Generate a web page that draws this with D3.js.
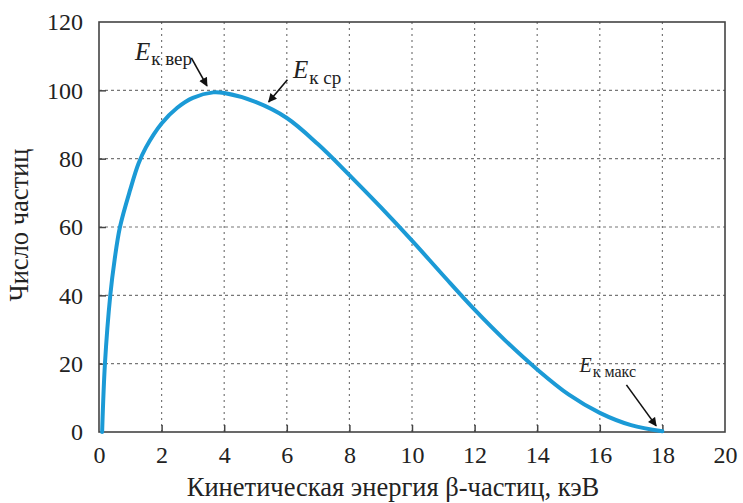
<!DOCTYPE html>
<html>
<head>
<meta charset="utf-8">
<script src="https://cdn.jsdelivr.net/npm/d3@7"></script>
</head>
<body style="margin:0; background:#fff">
<svg id="chart" width="743" height="503"></svg>
<script>
// spectrum
const energy = [0.1, 0.19, 0.36, 0.5, 0.67, 1, 1.26, 1.5, 2, 2.5, 3, 3.65, 4, 5, 6, 7, 8, 9, 10, 11, 12, 13, 14, 15, 16, 17, 18];
const count  = [0, 20, 40, 50.5, 60, 71, 78.5, 83.3, 90.3, 94.9, 97.8, 99.4, 99.2, 96.6, 91.9, 84.2, 75.2, 65.8, 56, 45.8, 35.8, 26.6, 18.3, 11, 5.6, 2, 0.2];
const xTicks = [0, 2, 4, 6, 8, 10, 12, 14, 16, 18, 20];
const yTicks = [0, 20, 40, 60, 80, 100, 120];

// annotations: subscript, text position, arrow from / to (data units)
const notes = [
  {sub: "к вер",  tx: 1.15, ty: 109, from: [2.95, 109.5], to: [3.45, 101.3], size: 25, subSize: 19},
  {sub: "к ср",   tx: 6.2,  ty: 103.6, from: [6.02, 103.1], to: [5.42, 96.6], size: 25, subSize: 19},
  {sub: "к макс", tx: 15.35, ty: 17.5, from: [16.85, 13.8], to: [17.8, 1.8], size: 20, subSize: 16}
];

const FONT = '"Liberation Serif"';
const svg = d3.select("#chart");
const margin = {top: 22, right: 18, bottom: 71, left: 99};
const width = 743 - margin.left - margin.right;
const height = 503 - margin.top - margin.bottom;

const x = d3.scaleLinear().domain([0, 20]).range([0, width]);
const y = d3.scaleLinear().domain([0, 120]).range([height, 0]);

const g = svg.append("g").attr("transform", `translate(${margin.left},${margin.top})`);

// grid
g.append("g").selectAll("line").data(yTicks.filter(d => d > 0 && d < 120)).join("line")
  .attr("x1", 0).attr("x2", width)
  .attr("y1", d => y(d)).attr("y2", d => y(d))
  .attr("stroke", "#777").attr("stroke-width", 1.2).attr("stroke-dasharray", "3,3");
g.append("g").selectAll("line").data(xTicks.filter(d => d > 0 && d < 20)).join("line")
  .attr("x1", d => x(d)).attr("x2", d => x(d))
  .attr("y1", 0).attr("y2", height)
  .attr("stroke", "#777").attr("stroke-width", 1.2).attr("stroke-dasharray", "2,4");

// axes with inward ticks
const xAxis = g.append("g").attr("transform", `translate(0,${height})`)
  .call(d3.axisBottom(x).tickValues(xTicks).tickSizeInner(-7).tickSizeOuter(0).tickPadding(16));
const yAxis = g.append("g")
  .call(d3.axisLeft(y).tickValues(yTicks).tickSizeInner(-7).tickSizeOuter(0).tickPadding(16));
[xAxis, yAxis].forEach(a => {
  a.attr("font-family", null).attr("font-size", null);
  a.select(".domain").remove();
  a.selectAll(".tick line").attr("stroke", "#444").attr("stroke-width", 1.5);
  a.selectAll(".tick text").style("font-family", FONT).style("font-size", "24px").attr("fill", "#222");
});
xAxis.selectAll(".tick line").filter(d => d === 0 || d === 20).remove();
yAxis.selectAll(".tick line").filter(d => d === 0 || d === 120).remove();
xAxis.selectAll(".tick text").attr("dy", "0.62em");

// frame
g.append("rect").attr("width", width).attr("height", height)
  .attr("fill", "none").attr("stroke", "#444").attr("stroke-width", 1.6);

// curve
const line = d3.line().x(d => x(d[0])).y(d => y(d[1])).curve(d3.curveCatmullRom.alpha(0.5));
g.append("path").datum(energy.map((e, i) => [e, count[i]]))
  .attr("d", line).attr("fill", "none")
  .attr("stroke", "#1b9ad6").attr("stroke-width", 4).attr("stroke-linecap", "round");

// arrow marker
svg.append("defs").append("marker").attr("id", "arr")
  .attr("viewBox", "0 0 10 10").attr("refX", 9).attr("refY", 5)
  .attr("markerWidth", 6).attr("markerHeight", 5.5).attr("orient", "auto")
  .append("path").attr("d", "M0,0L10,5L0,10z").attr("fill", "#111");

notes.forEach(n => {
  g.append("line")
    .attr("x1", x(n.from[0])).attr("y1", y(n.from[1]))
    .attr("x2", x(n.to[0])).attr("y2", y(n.to[1]))
    .attr("stroke", "#111").attr("stroke-width", 1.6).attr("marker-end", "url(#arr)");
  const t = g.append("text").attr("x", x(n.tx)).attr("y", y(n.ty))
    .style("font-family", FONT).attr("fill", "#222");
  t.append("tspan").text("E").style("font-family", FONT).style("font-style", "italic").style("font-size", n.size + "px");
  t.append("tspan").text(n.sub).style("font-family", FONT).attr("dx", 1).attr("dy", n.subSize * 0.3).style("font-size", n.subSize + "px");
});

// axis titles
svg.append("text")
  .attr("x", 393).attr("y", 496)
  .attr("text-anchor", "middle").style("font-family", FONT).style("font-size", "26.5px").attr("fill", "#222")
  .text("Кинетическая энергия β-частиц, кэВ");
svg.append("text")
  .attr("transform", "translate(28,225) rotate(-90)")
  .attr("text-anchor", "middle").style("font-family", FONT).style("font-size", "26.5px").attr("fill", "#222")
  .text("Число частиц");
</script>
</body>
</html>
